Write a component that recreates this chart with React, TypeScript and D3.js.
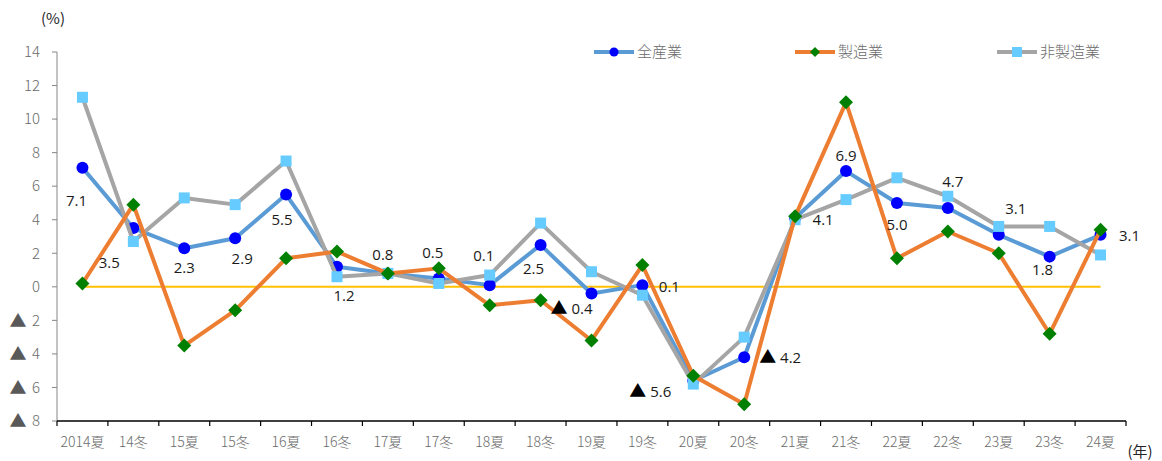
import React, { useRef, useEffect } from 'react';
import * as d3 from 'd3';

// 期（夏・冬）
const periods = ['2014夏', '14冬', '15夏', '15冬', '16夏', '16冬', '17夏', '17冬', '18夏', '18冬', '19夏',
  '19冬', '20夏', '20冬', '21夏', '21冬', '22夏', '22冬', '23夏', '23冬', '24夏'];

// 全産業
const allIndustry = [7.1, 3.5, 2.3, 2.9, 5.5, 1.2, 0.8, 0.5, 0.1, 2.5, -0.4, 0.1, -5.6, -4.2, 4.1, 6.9, 5.0, 4.7, 3.1, 1.8, 3.1];
// 製造業
const manufacturing = [0.2, 4.9, -3.5, -1.4, 1.7, 2.1, 0.8, 1.1, -1.1, -0.8, -3.2, 1.3, -5.3, -7.0, 4.2, 11.0, 1.7, 3.3, 2.0, -2.8, 3.4];
// 非製造業
const nonManufacturing = [11.3, 2.7, 5.3, 4.9, 7.5, 0.6, 0.8, 0.2, 0.7, 3.8, 0.9, -0.5, -5.8, -3.0, 4.0, 5.2, 6.5, 5.4, 3.6, 3.6, 1.9];

const yTicks = [-8, -6, -4, -2, 0, 2, 4, 6, 8, 10, 12, 14];

// 全産業ラベルの位置ずらし（px）
const labelOffsets: [number, number][] = [
  [-6, 33], [-24, 35], [0, 20], [7, 21], [-4, 25], [7, 29], [-5, -19], [-6, -26], [-6, -29], [-7, 24],
  [-20, 15], [27, 2], [-43, 11], [36, 0], [28, 2], [0, -15], [0, 22], [5, -26], [17, -26], [-7, 13], [29, 1],
];

const App = () => {
  const svgRef = useRef<SVGSVGElement>(null);

  useEffect(() => {
    const svg = d3.select(svgRef.current);
    svg.selectAll('*').remove();

    const left = 57, right = 1126, top = 52, bottom = 421;
    const tickFont = '"Noto Sans CJK JP", sans-serif';
    const labelFont = '"Open Sans", "Noto Sans", sans-serif';

    const x = d3.scaleBand().domain(periods).range([left, right]);
    const y = d3.scaleLinear().domain([-8, 14]).range([bottom, top]);
    const cx = (i: number) => (x(periods[i]) as number) + x.bandwidth() / 2;

    // y軸
    svg.append('line').attr('x1', left).attr('x2', left).attr('y1', top).attr('y2', bottom)
      .attr('stroke', '#868686').attr('stroke-width', 1);
    yTicks.forEach(t => {
      svg.append('line').attr('x1', left - 5).attr('x2', left).attr('y1', y(t)).attr('y2', y(t))
        .attr('stroke', '#868686');
      svg.append('text').attr('x', 40).attr('y', y(t)).attr('dy', '0.35em')
        .attr('text-anchor', 'end').attr('fill', '#6b6b6b').attr('font-size', 15)
        .attr('font-family', tickFont).attr('font-weight', 300)
        .text(String(Math.abs(t)));
      if (t < 0) {
        svg.append('text').attr('x', 18).attr('y', y(t)).attr('dy', '0.38em')
          .attr('text-anchor', 'middle').attr('fill', '#595959').attr('font-size', 17)
          .attr('font-family', tickFont).text('▲');
      }
    });
    svg.append('text').attr('x', 53).attr('y', 24).attr('text-anchor', 'middle')
      .attr('fill', '#262626').attr('font-size', 15).attr('font-family', tickFont).text('(%)');

    // x軸
    svg.append('line').attr('x1', left).attr('x2', right).attr('y1', bottom).attr('y2', bottom)
      .attr('stroke', '#000').attr('stroke-width', 1.5);
    const tickXs = periods.map(p => x(p) as number).concat([right]);
    tickXs.forEach(tx => {
      svg.append('line').attr('x1', tx).attr('x2', tx).attr('y1', bottom).attr('y2', bottom + 5)
        .attr('stroke', '#000').attr('stroke-width', 1.2);
    });
    periods.forEach((p, i) => {
      svg.append('text').attr('x', cx(i)).attr('y', 447).attr('text-anchor', 'middle')
        .attr('fill', '#6b6b6b').attr('font-size', 14).attr('font-family', tickFont)
        .attr('font-weight', 300).text(p);
    });
    svg.append('text').attr('x', 1140).attr('y', 457).attr('text-anchor', 'middle')
      .attr('fill', '#262626').attr('font-size', 15).attr('font-family', tickFont).text('(年)');

    // ゼロ線
    svg.append('line').attr('x1', cx(0)).attr('x2', cx(periods.length - 1))
      .attr('y1', y(0)).attr('y2', y(0)).attr('stroke', '#FFC000').attr('stroke-width', 2);

    const line = d3.line<number>().x((_, i) => cx(i)).y(d => y(d));

    const drawSeries = (data: number[], color: string, marker: (g: any, px: number, py: number) => void) => {
      svg.append('path').datum(data).attr('fill', 'none').attr('stroke', color)
        .attr('stroke-width', 4).attr('stroke-linejoin', 'round').attr('d', line);
      data.forEach((d, i) => marker(svg, cx(i), y(d)));
    };

    const circle = (g: any, px: number, py: number) =>
      g.append('circle').attr('cx', px).attr('cy', py).attr('r', 6).attr('fill', '#0000FF');
    const square = (g: any, px: number, py: number) =>
      g.append('rect').attr('x', px - 5.5).attr('y', py - 5.5).attr('width', 11).attr('height', 11).attr('fill', '#66CCFF');
    const diamond = (g: any, px: number, py: number) =>
      g.append('path').attr('d', `M${px},${py - 7}L${px + 7},${py}L${px},${py + 7}L${px - 7},${py}Z`).attr('fill', '#008000');

    drawSeries(allIndustry, '#5B9BD5', circle);
    drawSeries(nonManufacturing, '#A5A5A5', square);
    drawSeries(manufacturing, '#ED7D31', diamond);

    // データラベル（全産業）
    allIndustry.forEach((d, i) => {
      const [dx, dy] = labelOffsets[i];
      const t = svg.append('text').attr('x', cx(i) + dx).attr('y', y(d) + dy).attr('dy', '0.35em')
        .attr('text-anchor', 'middle').attr('fill', '#1a1a1a').attr('font-size', 15)
        .attr('font-family', labelFont);
      if (d < 0) {
        t.append('tspan').attr('font-family', tickFont).attr('font-size', 17).attr('fill', '#000').text('▲');
        t.append('tspan').text(' ' + Math.abs(d).toFixed(1));
      } else {
        t.text(d.toFixed(1));
      }
    });

    // 凡例
    const legend = [
      { name: '全産業', color: '#5B9BD5', kind: 'circle', x: 594 },
      { name: '製造業', color: '#ED7D31', kind: 'diamond', x: 795 },
      { name: '非製造業', color: '#A5A5A5', kind: 'square', x: 997 },
    ];
    legend.forEach(l => {
      const ly = 52;
      svg.append('line').attr('x1', l.x).attr('x2', l.x + 40).attr('y1', ly).attr('y2', ly)
        .attr('stroke', l.color).attr('stroke-width', 4);
      if (l.kind === 'circle') svg.append('circle').attr('cx', l.x + 20).attr('cy', ly).attr('r', 4.5).attr('fill', '#0000FF');
      else if (l.kind === 'diamond') svg.append('path').attr('d', `M${l.x + 20},${ly - 5}L${l.x + 25},${ly}L${l.x + 20},${ly + 5}L${l.x + 15},${ly}Z`).attr('fill', '#008000');
      else svg.append('rect').attr('x', l.x + 15).attr('y', ly - 5).attr('width', 10).attr('height', 10).attr('fill', '#66CCFF');
      svg.append('text').attr('x', l.x + 43).attr('y', ly).attr('dy', '0.35em')
        .attr('fill', '#6b6b6b').attr('font-size', 15).attr('font-family', tickFont).attr('font-weight', 300)
        .text(l.name);
    });
  }, []);

  return (
    <svg ref={svgRef} width={1162} height={461}
      style={{ position: 'absolute', top: 0, left: 0, background: '#fff' }} />
  );
};

export default App;
